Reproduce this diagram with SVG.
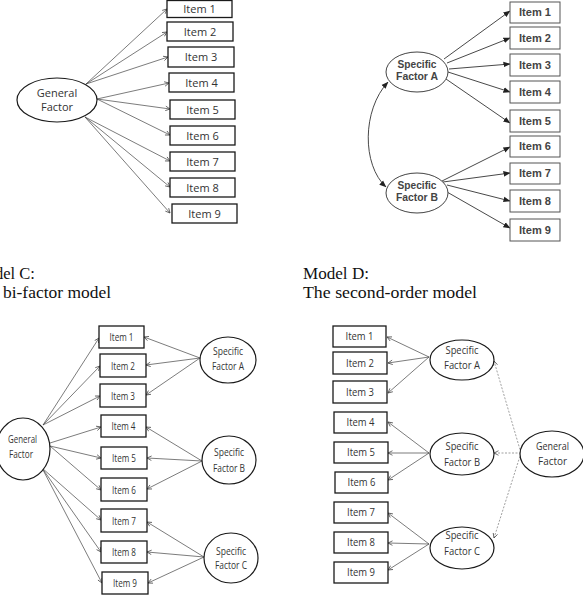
<svg xmlns="http://www.w3.org/2000/svg" width="583" height="599" viewBox="0 0 583 599">
<defs>
<style>
.bg{fill:#fff}
.box{fill:#fff;stroke:#1a1a1a;stroke-width:1.3}
.boxb{fill:#fff;stroke:#555;stroke-width:1}
.ell{fill:#fff;stroke:#1a1a1a;stroke-width:1.2}
.ellb{fill:#fff;stroke:#444;stroke-width:1}
.ln{stroke:#444;stroke-width:0.7;fill:none;marker-end:url(#open)}
.lnb{stroke:#333;stroke-width:0.9;fill:none;marker-end:url(#solid)}
.lnd{stroke:#777;stroke-width:0.7;fill:none;stroke-dasharray:2 1.5;marker-end:url(#open)}
.ta{font-family:"Open Sans","Liberation Sans",sans-serif;font-size:11px;fill:#333;text-anchor:middle}
.tb{font-family:"Liberation Sans",Arial,sans-serif;font-size:10px;font-weight:bold;fill:#444;text-anchor:middle}
.tc{font-family:"Open Sans","Liberation Sans",sans-serif;font-size:10px;fill:#333;text-anchor:middle}
.ttl{font-family:"Liberation Serif","Times New Roman",serif;font-size:16.5px;fill:#111}
</style>
<marker id="open" viewBox="0 0 8 8" refX="7" refY="4" markerWidth="6" markerHeight="6" markerUnits="userSpaceOnUse" orient="auto">
<path d="M1,1 L7,4 L1,7" fill="none" stroke="#444" stroke-width="1"/>
</marker>
<marker id="solid" viewBox="0 0 8 8" refX="7.5" refY="4" markerWidth="7" markerHeight="7" markerUnits="userSpaceOnUse" orient="auto-start-reverse">
<path d="M0,0.8 L8,4 L0,7.2 Z" fill="#222"/>
</marker>
</defs>
<rect class="bg" x="0" y="0" width="583" height="599"/>

<!-- ================= Panel A ================= -->
<g id="connectors-A">
<line class="ln" x1="86" y1="84" x2="167" y2="9"/>
<line class="ln" x1="86" y1="84" x2="167" y2="32"/>
<line class="ln" x1="86" y1="84" x2="168" y2="57"/>
<line class="ln" x1="97" y1="99" x2="169" y2="83"/>
<line class="ln" x1="97" y1="99" x2="170" y2="109"/>
<line class="ln" x1="97" y1="99" x2="170" y2="135"/>
<line class="ln" x1="85" y1="117" x2="170" y2="161"/>
<line class="ln" x1="85" y1="117" x2="170" y2="187"/>
<line class="ln" x1="85" y1="117" x2="170" y2="213"/>
</g>
<g id="A-general"><ellipse class="ell" cx="57" cy="100" rx="40" ry="22"/><text class="ta" x="57" y="97">General</text><text class="ta" x="57" y="111">Factor</text></g>
<g id="A-item1"><rect class="box" x="167" y="0.5" width="65" height="17"/><text class="ta" x="199.5" y="13">Item 1</text></g>
<g id="A-item2"><rect class="box" x="167" y="22" width="66" height="19"/><text class="ta" x="200" y="35.5">Item 2</text></g>
<g id="A-item3"><rect class="box" x="168" y="47" width="66" height="20"/><text class="ta" x="201" y="61">Item 3</text></g>
<g id="A-item4"><rect class="box" x="169" y="73" width="65" height="19"/><text class="ta" x="201.5" y="86.5">Item 4</text></g>
<g id="A-item5"><rect class="box" x="170" y="100" width="65" height="19"/><text class="ta" x="202.5" y="113.5">Item 5</text></g>
<g id="A-item6"><rect class="box" x="170" y="126" width="65" height="19"/><text class="ta" x="202.5" y="139.5">Item 6</text></g>
<g id="A-item7"><rect class="box" x="170" y="152" width="65" height="19"/><text class="ta" x="202.5" y="165.5">Item 7</text></g>
<g id="A-item8"><rect class="box" x="170" y="178" width="65" height="19"/><text class="ta" x="202.5" y="191.5">Item 8</text></g>
<g id="A-item9"><rect class="box" x="172" y="204" width="65" height="19"/><text class="ta" x="204.5" y="217.5">Item 9</text></g>

<!-- ================= Panel B ================= -->
<g id="connectors-B">
<path class="lnb" style="marker-start:url(#solid)" d="M388,82 C362,110 362,165 386,187"/>
<line class="lnb" x1="444" y1="59" x2="510" y2="11"/>
<line class="lnb" x1="447" y1="63" x2="510" y2="38"/>
<line class="lnb" x1="449" y1="69" x2="510" y2="64"/>
<line class="lnb" x1="448" y1="72" x2="510" y2="92"/>
<line class="lnb" x1="446" y1="79" x2="510" y2="123"/>
<line class="lnb" x1="442" y1="181" x2="510" y2="147"/>
<line class="lnb" x1="443" y1="182" x2="510" y2="173"/>
<line class="lnb" x1="447" y1="185" x2="510" y2="201"/>
<line class="lnb" x1="447" y1="192" x2="510" y2="228"/>
</g>
<g id="B-factorA"><ellipse class="ellb" cx="417" cy="72" rx="31" ry="20"/><text class="tb" x="417" y="68" textLength="39" lengthAdjust="spacingAndGlyphs">Specific</text><text class="tb" x="417" y="80" textLength="42" lengthAdjust="spacingAndGlyphs">Factor A</text></g>
<g id="B-factorB"><ellipse class="ellb" cx="417" cy="193" rx="31" ry="20"/><text class="tb" x="417" y="189" textLength="39" lengthAdjust="spacingAndGlyphs">Specific</text><text class="tb" x="417" y="201" textLength="42" lengthAdjust="spacingAndGlyphs">Factor B</text></g>
<g id="B-item1"><rect class="boxb" x="510" y="2" width="50" height="21"/><text class="tb" x="535" y="16" textLength="32" lengthAdjust="spacingAndGlyphs">Item 1</text></g>
<g id="B-item2"><rect class="boxb" x="510" y="27" width="50" height="22"/><text class="tb" x="535" y="41.5" textLength="32" lengthAdjust="spacingAndGlyphs">Item 2</text></g>
<g id="B-item3"><rect class="boxb" x="510" y="54" width="50" height="22"/><text class="tb" x="535" y="68.5" textLength="32" lengthAdjust="spacingAndGlyphs">Item 3</text></g>
<g id="B-item4"><rect class="boxb" x="510" y="81" width="50" height="22"/><text class="tb" x="535" y="95.5" textLength="32" lengthAdjust="spacingAndGlyphs">Item 4</text></g>
<g id="B-item5"><rect class="boxb" x="510" y="110" width="50" height="22"/><text class="tb" x="535" y="124.5" textLength="32" lengthAdjust="spacingAndGlyphs">Item 5</text></g>
<g id="B-item6"><rect class="boxb" x="510" y="136" width="50" height="21"/><text class="tb" x="535" y="150" textLength="32" lengthAdjust="spacingAndGlyphs">Item 6</text></g>
<g id="B-item7"><rect class="boxb" x="510" y="163" width="50" height="21"/><text class="tb" x="535" y="177" textLength="32" lengthAdjust="spacingAndGlyphs">Item 7</text></g>
<g id="B-item8"><rect class="boxb" x="510" y="190" width="50" height="22"/><text class="tb" x="535" y="204.5" textLength="32" lengthAdjust="spacingAndGlyphs">Item 8</text></g>
<g id="B-item9"><rect class="boxb" x="510" y="219" width="50" height="22"/><text class="tb" x="535" y="233.5" textLength="32" lengthAdjust="spacingAndGlyphs">Item 9</text></g>

<!-- ================= Titles ================= -->
<text class="ttl" x="-5" y="279">del C:</text>
<text class="ttl" x="3" y="298" textLength="108" lengthAdjust="spacingAndGlyphs">bi-factor model</text>
<text class="ttl" x="303" y="279" textLength="66" lengthAdjust="spacingAndGlyphs">Model D:</text>
<text class="ttl" x="303" y="298" textLength="174" lengthAdjust="spacingAndGlyphs">The second-order model</text>

<!-- ================= Panel C ================= -->
<g id="connectors-C">
<line class="ln" x1="43" y1="425" x2="99" y2="338"/>
<line class="ln" x1="43" y1="425" x2="100" y2="366"/>
<line class="ln" x1="43" y1="425" x2="100" y2="396"/>
<line class="ln" x1="50" y1="443" x2="101" y2="427"/>
<line class="ln" x1="50" y1="446" x2="101" y2="458"/>
<line class="ln" x1="50" y1="446" x2="101" y2="490"/>
<line class="ln" x1="42" y1="468" x2="101" y2="520"/>
<line class="ln" x1="42" y1="468" x2="101" y2="552"/>
<line class="ln" x1="42" y1="468" x2="102" y2="583"/>
<line class="ln" x1="200" y1="358" x2="144" y2="337"/>
<line class="ln" x1="200" y1="358" x2="146" y2="365"/>
<line class="ln" x1="200" y1="358" x2="146" y2="395"/>
<line class="ln" x1="202" y1="461" x2="146" y2="427"/>
<line class="ln" x1="202" y1="461" x2="147" y2="458"/>
<line class="ln" x1="202" y1="461" x2="147" y2="489"/>
<line class="ln" x1="204" y1="557" x2="147" y2="522"/>
<line class="ln" x1="204" y1="557" x2="147" y2="552"/>
<line class="ln" x1="204" y1="557" x2="148" y2="583"/>
</g>
<g id="C-general"><ellipse class="ell" cx="23" cy="449" rx="27" ry="31"/><text class="tc" x="22.5" y="443" textLength="29" lengthAdjust="spacingAndGlyphs">General</text><text class="tc" x="21" y="458" textLength="24" lengthAdjust="spacingAndGlyphs">Factor</text></g>
<g id="C-factorA"><ellipse class="ell" cx="228" cy="360" rx="28" ry="23"/><text class="tc" x="228" y="355" textLength="30" lengthAdjust="spacingAndGlyphs">Specific</text><text class="tc" x="228" y="370" textLength="32" lengthAdjust="spacingAndGlyphs">Factor A</text></g>
<g id="C-factorB"><ellipse class="ell" cx="229" cy="460" rx="27" ry="24"/><text class="tc" x="229" y="456" textLength="30" lengthAdjust="spacingAndGlyphs">Specific</text><text class="tc" x="229" y="472" textLength="32" lengthAdjust="spacingAndGlyphs">Factor B</text></g>
<g id="C-factorC"><ellipse class="ell" cx="231" cy="558" rx="27" ry="25"/><text class="tc" x="231" y="555" textLength="30" lengthAdjust="spacingAndGlyphs">Specific</text><text class="tc" x="231" y="569" textLength="32" lengthAdjust="spacingAndGlyphs">Factor C</text></g>
<g id="C-item1"><rect class="box" x="99" y="326" width="45" height="22"/><text class="tc" x="121.5" y="341" textLength="24" lengthAdjust="spacingAndGlyphs">Item 1</text></g>
<g id="C-item2"><rect class="box" x="100" y="354" width="46" height="23"/><text class="tc" x="123" y="369.5" textLength="24" lengthAdjust="spacingAndGlyphs">Item 2</text></g>
<g id="C-item3"><rect class="box" x="100" y="384" width="46" height="23"/><text class="tc" x="123" y="399.5" textLength="24" lengthAdjust="spacingAndGlyphs">Item 3</text></g>
<g id="C-item4"><rect class="box" x="101" y="415" width="45" height="22"/><text class="tc" x="123.5" y="430" textLength="24" lengthAdjust="spacingAndGlyphs">Item 4</text></g>
<g id="C-item5"><rect class="box" x="101" y="447" width="46" height="22"/><text class="tc" x="124" y="462" textLength="24" lengthAdjust="spacingAndGlyphs">Item 5</text></g>
<g id="C-item6"><rect class="box" x="101" y="478" width="46" height="23"/><text class="tc" x="124" y="493.5" textLength="24" lengthAdjust="spacingAndGlyphs">Item 6</text></g>
<g id="C-item7"><rect class="box" x="101" y="509" width="46" height="23"/><text class="tc" x="124" y="524.5" textLength="24" lengthAdjust="spacingAndGlyphs">Item 7</text></g>
<g id="C-item8"><rect class="box" x="101" y="541" width="46" height="22"/><text class="tc" x="124" y="556" textLength="24" lengthAdjust="spacingAndGlyphs">Item 8</text></g>
<g id="C-item9"><rect class="box" x="102" y="572" width="46" height="22"/><text class="tc" x="125" y="587" textLength="24" lengthAdjust="spacingAndGlyphs">Item 9</text></g>

<!-- ================= Panel D ================= -->
<g id="connectors-D">
<line class="ln" x1="429" y1="357" x2="387" y2="337"/>
<line class="ln" x1="429" y1="357" x2="388" y2="363"/>
<line class="ln" x1="429" y1="357" x2="388" y2="393"/>
<line class="ln" x1="429" y1="453" x2="388" y2="422"/>
<line class="ln" x1="429" y1="453" x2="388" y2="453"/>
<line class="ln" x1="429" y1="453" x2="388" y2="480"/>
<line class="ln" x1="429" y1="544" x2="388" y2="513"/>
<line class="ln" x1="429" y1="544" x2="388" y2="543"/>
<line class="ln" x1="429" y1="544" x2="388" y2="570"/>
<line class="lnd" x1="521" y1="453" x2="494" y2="361"/>
<line class="lnd" x1="521" y1="453" x2="494" y2="453"/>
<line class="lnd" x1="521" y1="453" x2="494" y2="538"/>
</g>
<g id="D-factorA"><ellipse class="ell" cx="462" cy="360" rx="32" ry="20"/><text class="tc" x="462" y="354" textLength="33" lengthAdjust="spacingAndGlyphs">Specific</text><text class="tc" x="462" y="369" textLength="36" lengthAdjust="spacingAndGlyphs">Factor A</text></g>
<g id="D-factorB"><ellipse class="ell" cx="462" cy="454" rx="32" ry="21"/><text class="tc" x="462" y="450" textLength="33" lengthAdjust="spacingAndGlyphs">Specific</text><text class="tc" x="462" y="466" textLength="36" lengthAdjust="spacingAndGlyphs">Factor B</text></g>
<g id="D-factorC"><ellipse class="ell" cx="462" cy="548" rx="32" ry="21"/><text class="tc" x="462" y="539" textLength="33" lengthAdjust="spacingAndGlyphs">Specific</text><text class="tc" x="462" y="555" textLength="36" lengthAdjust="spacingAndGlyphs">Factor C</text></g>
<g id="D-general"><ellipse class="ell" cx="552" cy="454" rx="32" ry="23"/><text class="tc" x="552.5" y="450" textLength="33" lengthAdjust="spacingAndGlyphs">General</text><text class="tc" x="552.5" y="465" textLength="29" lengthAdjust="spacingAndGlyphs">Factor</text></g>
<g id="D-item1"><rect class="box" x="333" y="326" width="53" height="21"/><text class="tc" x="359.5" y="340" textLength="28" lengthAdjust="spacingAndGlyphs">Item 1</text></g>
<g id="D-item2"><rect class="box" x="333" y="352" width="54" height="22"/><text class="tc" x="360" y="366.5" textLength="28" lengthAdjust="spacingAndGlyphs">Item 2</text></g>
<g id="D-item3"><rect class="box" x="333" y="381" width="54" height="22"/><text class="tc" x="360" y="395.5" textLength="28" lengthAdjust="spacingAndGlyphs">Item 3</text></g>
<g id="D-item4"><rect class="box" x="334" y="412" width="53" height="21"/><text class="tc" x="360.5" y="426" textLength="28" lengthAdjust="spacingAndGlyphs">Item 4</text></g>
<g id="D-item5"><rect class="box" x="334" y="442" width="54" height="21"/><text class="tc" x="361" y="456" textLength="28" lengthAdjust="spacingAndGlyphs">Item 5</text></g>
<g id="D-item6"><rect class="box" x="335" y="472" width="53" height="21"/><text class="tc" x="361.5" y="486" textLength="28" lengthAdjust="spacingAndGlyphs">Item 6</text></g>
<g id="D-item7"><rect class="box" x="334" y="502" width="54" height="21"/><text class="tc" x="361" y="516" textLength="28" lengthAdjust="spacingAndGlyphs">Item 7</text></g>
<g id="D-item8"><rect class="box" x="334" y="532" width="54" height="21"/><text class="tc" x="361" y="546" textLength="28" lengthAdjust="spacingAndGlyphs">Item 8</text></g>
<g id="D-item9"><rect class="box" x="334" y="562" width="54" height="21"/><text class="tc" x="361" y="576" textLength="28" lengthAdjust="spacingAndGlyphs">Item 9</text></g>
</svg>
